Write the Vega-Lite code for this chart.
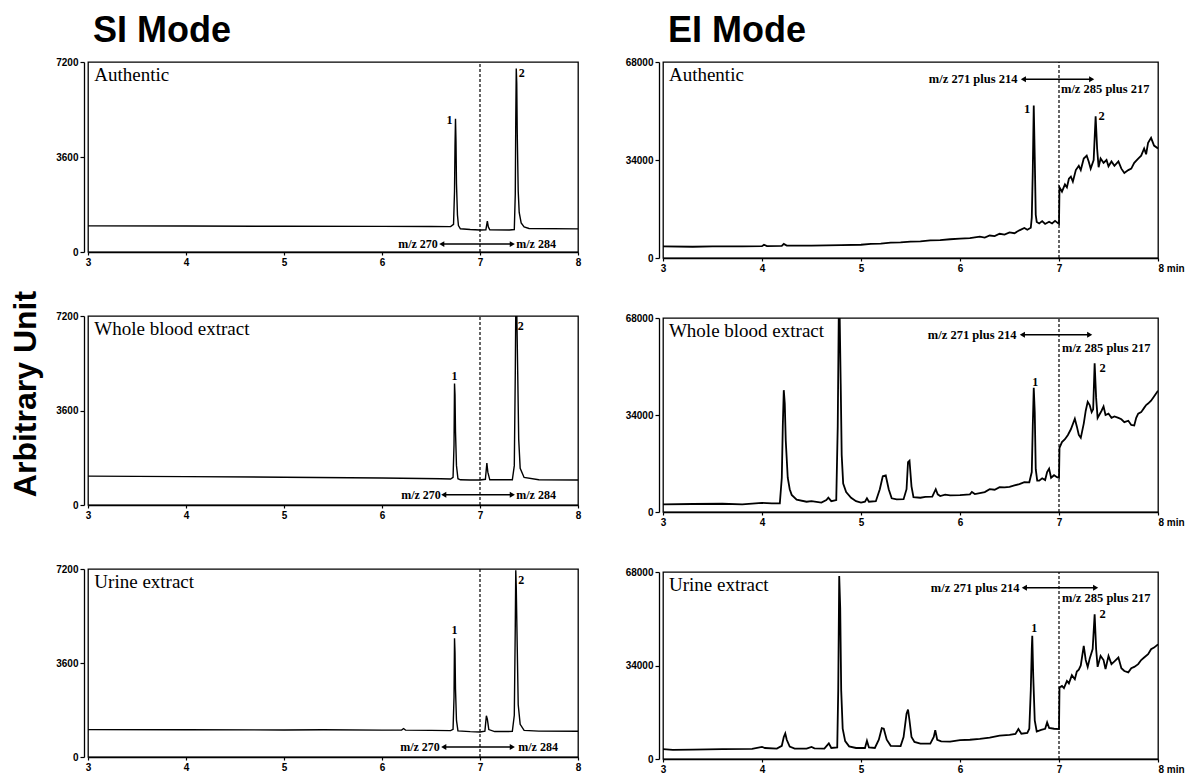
{
  "$schema": "https://vega.github.io/schema/vega-lite/v6.json",
  "background": "white",
  "padding": {"left": 10, "top": 13, "right": 5, "bottom": 1},
  "title": {"text": "Arbitrary Unit", "orient": "left", "anchor": "middle", "frame": "bounds", "font": "Liberation Sans", "fontSize": 32, "fontWeight": "bold", "color": "black", "offset": 12},
  "config": {
    "view": {"stroke": "black", "strokeWidth": 1.3},
    "axis": {"grid": false, "domainColor": "black", "tickColor": "black", "labelColor": "black", "labelFont": "Liberation Sans", "labelFontWeight": "bold", "labelFontSize": 10, "tickSize": 4, "domainWidth": 1.3, "tickWidth": 1.2, "labelFlush": false, "title": null, "labelPadding": 2},
    "text": {"color": "black"},
    "concat": {"spacing": 42}
  },
  "datasets": {
    "trace": [
      {"panel":"SI_A","t":3,"v":990},{"panel":"SI_A","t":4,"v":985},{"panel":"SI_A","t":5,"v":975},{"panel":"SI_A","t":6,"v":970},{"panel":"SI_A","t":6.5,"v":965},{"panel":"SI_A","t":6.7,"v":962},{"panel":"SI_A","t":6.73,"v":1050},{"panel":"SI_A","t":6.74,"v":2300},{"panel":"SI_A","t":6.745,"v":4000},{"panel":"SI_A","t":6.75,"v":5050},{"panel":"SI_A","t":6.755,"v":4200},{"panel":"SI_A","t":6.76,"v":2600},{"panel":"SI_A","t":6.77,"v":1400},{"panel":"SI_A","t":6.78,"v":1000},{"panel":"SI_A","t":6.8,"v":880},{"panel":"SI_A","t":6.9,"v":850},{"panel":"SI_A","t":7.0,"v":835},{"panel":"SI_A","t":7.06,"v":845},{"panel":"SI_A","t":7.075,"v":1170},{"panel":"SI_A","t":7.085,"v":950},{"panel":"SI_A","t":7.1,"v":840},{"panel":"SI_A","t":7.3,"v":835},{"panel":"SI_A","t":7.35,"v":850},{"panel":"SI_A","t":7.36,"v":2200},{"panel":"SI_A","t":7.365,"v":5000},{"panel":"SI_A","t":7.37,"v":6950},{"panel":"SI_A","t":7.375,"v":6400},{"panel":"SI_A","t":7.38,"v":4500},{"panel":"SI_A","t":7.39,"v":2300},{"panel":"SI_A","t":7.4,"v":1500},{"panel":"SI_A","t":7.42,"v":1100},{"panel":"SI_A","t":7.45,"v":950},{"panel":"SI_A","t":7.5,"v":890},{"panel":"SI_A","t":8,"v":875},

      {"panel":"SI_B","t":3,"v":1100},{"panel":"SI_B","t":4,"v":1080},{"panel":"SI_B","t":5,"v":1060},{"panel":"SI_B","t":6,"v":1030},{"panel":"SI_B","t":6.6,"v":1000},{"panel":"SI_B","t":6.7,"v":990},{"panel":"SI_B","t":6.725,"v":1050},{"panel":"SI_B","t":6.735,"v":2300},{"panel":"SI_B","t":6.74,"v":4630},{"panel":"SI_B","t":6.745,"v":4200},{"panel":"SI_B","t":6.75,"v":2800},{"panel":"SI_B","t":6.76,"v":1500},{"panel":"SI_B","t":6.775,"v":1000},{"panel":"SI_B","t":6.8,"v":960},{"panel":"SI_B","t":6.9,"v":950},{"panel":"SI_B","t":7.0,"v":950},{"panel":"SI_B","t":7.055,"v":980},{"panel":"SI_B","t":7.07,"v":1600},{"panel":"SI_B","t":7.08,"v":1250},{"panel":"SI_B","t":7.1,"v":960},{"panel":"SI_B","t":7.33,"v":960},{"panel":"SI_B","t":7.35,"v":1500},{"panel":"SI_B","t":7.36,"v":5000},{"panel":"SI_B","t":7.365,"v":7400},{"panel":"SI_B","t":7.375,"v":7400},{"panel":"SI_B","t":7.385,"v":5000},{"panel":"SI_B","t":7.395,"v":2500},{"panel":"SI_B","t":7.41,"v":1400},{"panel":"SI_B","t":7.45,"v":1050},{"panel":"SI_B","t":7.6,"v":960},{"panel":"SI_B","t":8,"v":950},

      {"panel":"SI_U","t":3,"v":1050},{"panel":"SI_U","t":4,"v":1045},{"panel":"SI_U","t":5,"v":1035},{"panel":"SI_U","t":5.4,"v":1042},{"panel":"SI_U","t":6,"v":1030},{"panel":"SI_U","t":6.2,"v":1030},{"panel":"SI_U","t":6.22,"v":1090},{"panel":"SI_U","t":6.24,"v":1030},{"panel":"SI_U","t":6.5,"v":1020},{"panel":"SI_U","t":6.7,"v":1010},{"panel":"SI_U","t":6.725,"v":1060},{"panel":"SI_U","t":6.735,"v":2300},{"panel":"SI_U","t":6.74,"v":4550},{"panel":"SI_U","t":6.745,"v":4000},{"panel":"SI_U","t":6.75,"v":2600},{"panel":"SI_U","t":6.76,"v":1400},{"panel":"SI_U","t":6.775,"v":1000},{"panel":"SI_U","t":6.9,"v":970},{"panel":"SI_U","t":7.0,"v":960},{"panel":"SI_U","t":7.05,"v":990},{"panel":"SI_U","t":7.065,"v":1580},{"panel":"SI_U","t":7.075,"v":1450},{"panel":"SI_U","t":7.09,"v":1050},{"panel":"SI_U","t":7.15,"v":975},{"panel":"SI_U","t":7.33,"v":980},{"panel":"SI_U","t":7.35,"v":1600},{"panel":"SI_U","t":7.36,"v":5000},{"panel":"SI_U","t":7.365,"v":7150},{"panel":"SI_U","t":7.37,"v":6500},{"panel":"SI_U","t":7.38,"v":4200},{"panel":"SI_U","t":7.39,"v":2000},{"panel":"SI_U","t":7.41,"v":1250},{"panel":"SI_U","t":7.45,"v":1020},{"panel":"SI_U","t":7.6,"v":990},{"panel":"SI_U","t":8,"v":985},

      {"panel":"EI_A","t":3.0,"v":4000},{"panel":"EI_A","t":3.3,"v":3900},{"panel":"EI_A","t":3.5,"v":4000},{"panel":"EI_A","t":3.8,"v":4050},{"panel":"EI_A","t":4.0,"v":4100},{"panel":"EI_A","t":4.02,"v":4600},{"panel":"EI_A","t":4.05,"v":4100},{"panel":"EI_A","t":4.2,"v":4200},{"panel":"EI_A","t":4.22,"v":4900},{"panel":"EI_A","t":4.25,"v":4300},{"panel":"EI_A","t":4.5,"v":4300},{"panel":"EI_A","t":4.8,"v":4500},{"panel":"EI_A","t":5.0,"v":4600},{"panel":"EI_A","t":5.1,"v":4900},{"panel":"EI_A","t":5.2,"v":5000},{"panel":"EI_A","t":5.3,"v":5300},{"panel":"EI_A","t":5.4,"v":5400},{"panel":"EI_A","t":5.5,"v":5700},{"panel":"EI_A","t":5.6,"v":5800},{"panel":"EI_A","t":5.7,"v":6100},{"panel":"EI_A","t":5.8,"v":6200},{"panel":"EI_A","t":5.9,"v":6500},{"panel":"EI_A","t":6.0,"v":6700},{"panel":"EI_A","t":6.1,"v":6900},{"panel":"EI_A","t":6.2,"v":7400},{"panel":"EI_A","t":6.25,"v":7100},{"panel":"EI_A","t":6.3,"v":7800},{"panel":"EI_A","t":6.35,"v":7600},{"panel":"EI_A","t":6.4,"v":8400},{"panel":"EI_A","t":6.45,"v":8100},{"panel":"EI_A","t":6.5,"v":8900},{"panel":"EI_A","t":6.55,"v":8600},{"panel":"EI_A","t":6.6,"v":9600},{"panel":"EI_A","t":6.65,"v":10400},{"panel":"EI_A","t":6.68,"v":9800},{"panel":"EI_A","t":6.715,"v":10500},{"panel":"EI_A","t":6.725,"v":14000},{"panel":"EI_A","t":6.735,"v":30000},{"panel":"EI_A","t":6.745,"v":52900},{"panel":"EI_A","t":6.755,"v":35000},{"panel":"EI_A","t":6.765,"v":15000},{"panel":"EI_A","t":6.775,"v":12500},{"panel":"EI_A","t":6.8,"v":12000},{"panel":"EI_A","t":6.83,"v":12800},{"panel":"EI_A","t":6.86,"v":11800},{"panel":"EI_A","t":6.9,"v":12600},{"panel":"EI_A","t":6.93,"v":12000},{"panel":"EI_A","t":6.96,"v":12900},{"panel":"EI_A","t":7.0,"v":11800},{"panel":"EI_A","t":7.005,"v":24500},{"panel":"EI_A","t":7.03,"v":23000},{"panel":"EI_A","t":7.06,"v":25500},{"panel":"EI_A","t":7.08,"v":24500},{"panel":"EI_A","t":7.1,"v":27500},{"panel":"EI_A","t":7.12,"v":28200},{"panel":"EI_A","t":7.14,"v":26500},{"panel":"EI_A","t":7.17,"v":30500},{"panel":"EI_A","t":7.2,"v":32000},{"panel":"EI_A","t":7.22,"v":30500},{"panel":"EI_A","t":7.25,"v":34500},{"panel":"EI_A","t":7.28,"v":35500},{"panel":"EI_A","t":7.3,"v":33500},{"panel":"EI_A","t":7.32,"v":31000},{"panel":"EI_A","t":7.35,"v":34000},{"panel":"EI_A","t":7.37,"v":49200},{"panel":"EI_A","t":7.385,"v":38000},{"panel":"EI_A","t":7.4,"v":31500},{"panel":"EI_A","t":7.42,"v":34500},{"panel":"EI_A","t":7.45,"v":33000},{"panel":"EI_A","t":7.48,"v":34000},{"panel":"EI_A","t":7.5,"v":31800},{"panel":"EI_A","t":7.53,"v":33500},{"panel":"EI_A","t":7.56,"v":32000},{"panel":"EI_A","t":7.6,"v":33500},{"panel":"EI_A","t":7.63,"v":31000},{"panel":"EI_A","t":7.66,"v":29500},{"panel":"EI_A","t":7.7,"v":30500},{"panel":"EI_A","t":7.73,"v":31000},{"panel":"EI_A","t":7.76,"v":33000},{"panel":"EI_A","t":7.8,"v":34500},{"panel":"EI_A","t":7.83,"v":35500},{"panel":"EI_A","t":7.86,"v":38000},{"panel":"EI_A","t":7.88,"v":36000},{"panel":"EI_A","t":7.9,"v":40000},{"panel":"EI_A","t":7.93,"v":41700},{"panel":"EI_A","t":7.96,"v":39000},{"panel":"EI_A","t":8.0,"v":38000},

      {"panel":"EI_B","t":3.0,"v":2700},{"panel":"EI_B","t":3.3,"v":2800},{"panel":"EI_B","t":3.6,"v":2900},{"panel":"EI_B","t":3.8,"v":2700},{"panel":"EI_B","t":4.0,"v":3200},{"panel":"EI_B","t":4.1,"v":3000},{"panel":"EI_B","t":4.18,"v":3000},{"panel":"EI_B","t":4.2,"v":12000},{"panel":"EI_B","t":4.21,"v":30000},{"panel":"EI_B","t":4.22,"v":42700},{"panel":"EI_B","t":4.23,"v":38000},{"panel":"EI_B","t":4.24,"v":25000},{"panel":"EI_B","t":4.26,"v":12000},{"panel":"EI_B","t":4.28,"v":8000},{"panel":"EI_B","t":4.3,"v":6000},{"panel":"EI_B","t":4.35,"v":4300},{"panel":"EI_B","t":4.45,"v":3600},{"panel":"EI_B","t":4.5,"v":3800},{"panel":"EI_B","t":4.6,"v":3300},{"panel":"EI_B","t":4.65,"v":4200},{"panel":"EI_B","t":4.67,"v":5000},{"panel":"EI_B","t":4.7,"v":3800},{"panel":"EI_B","t":4.75,"v":4200},{"panel":"EI_B","t":4.765,"v":30000},{"panel":"EI_B","t":4.775,"v":67800},{"panel":"EI_B","t":4.785,"v":67800},{"panel":"EI_B","t":4.795,"v":45000},{"panel":"EI_B","t":4.805,"v":20000},{"panel":"EI_B","t":4.82,"v":10000},{"panel":"EI_B","t":4.85,"v":7000},{"panel":"EI_B","t":4.9,"v":5000},{"panel":"EI_B","t":4.95,"v":3800},{"panel":"EI_B","t":5.0,"v":3300},{"panel":"EI_B","t":5.04,"v":3600},{"panel":"EI_B","t":5.06,"v":4800},{"panel":"EI_B","t":5.08,"v":3600},{"panel":"EI_B","t":5.15,"v":3800},{"panel":"EI_B","t":5.19,"v":8000},{"panel":"EI_B","t":5.22,"v":12500},{"panel":"EI_B","t":5.25,"v":12800},{"panel":"EI_B","t":5.28,"v":8000},{"panel":"EI_B","t":5.31,"v":4800},{"panel":"EI_B","t":5.36,"v":4400},{"panel":"EI_B","t":5.43,"v":4500},{"panel":"EI_B","t":5.46,"v":8000},{"panel":"EI_B","t":5.475,"v":17500},{"panel":"EI_B","t":5.49,"v":18000},{"panel":"EI_B","t":5.51,"v":9000},{"panel":"EI_B","t":5.53,"v":5200},{"panel":"EI_B","t":5.6,"v":5000},{"panel":"EI_B","t":5.65,"v":5300},{"panel":"EI_B","t":5.72,"v":5400},{"panel":"EI_B","t":5.755,"v":8000},{"panel":"EI_B","t":5.775,"v":6200},{"panel":"EI_B","t":5.8,"v":5600},{"panel":"EI_B","t":5.85,"v":6100},{"panel":"EI_B","t":5.9,"v":5800},{"panel":"EI_B","t":6.0,"v":5900},{"panel":"EI_B","t":6.1,"v":6200},{"panel":"EI_B","t":6.12,"v":7000},{"panel":"EI_B","t":6.15,"v":6300},{"panel":"EI_B","t":6.25,"v":7000},{"panel":"EI_B","t":6.3,"v":8000},{"panel":"EI_B","t":6.35,"v":7800},{"panel":"EI_B","t":6.4,"v":8700},{"panel":"EI_B","t":6.45,"v":8600},{"panel":"EI_B","t":6.5,"v":8800},{"panel":"EI_B","t":6.55,"v":9300},{"panel":"EI_B","t":6.6,"v":9800},{"panel":"EI_B","t":6.65,"v":10500},{"panel":"EI_B","t":6.7,"v":10400},{"panel":"EI_B","t":6.725,"v":14000},{"panel":"EI_B","t":6.735,"v":30000},{"panel":"EI_B","t":6.745,"v":43500},{"panel":"EI_B","t":6.755,"v":35000},{"panel":"EI_B","t":6.765,"v":15000},{"panel":"EI_B","t":6.78,"v":11000},{"panel":"EI_B","t":6.8,"v":11000},{"panel":"EI_B","t":6.83,"v":11800},{"panel":"EI_B","t":6.86,"v":11200},{"panel":"EI_B","t":6.88,"v":14000},{"panel":"EI_B","t":6.9,"v":15200},{"panel":"EI_B","t":6.92,"v":12000},{"panel":"EI_B","t":6.95,"v":12900},{"panel":"EI_B","t":6.98,"v":12200},{"panel":"EI_B","t":7.0,"v":12000},{"panel":"EI_B","t":7.005,"v":22500},{"panel":"EI_B","t":7.03,"v":24500},{"panel":"EI_B","t":7.06,"v":25500},{"panel":"EI_B","t":7.09,"v":27000},{"panel":"EI_B","t":7.12,"v":29000},{"panel":"EI_B","t":7.16,"v":32700},{"panel":"EI_B","t":7.18,"v":30000},{"panel":"EI_B","t":7.2,"v":27000},{"panel":"EI_B","t":7.22,"v":26000},{"panel":"EI_B","t":7.25,"v":31000},{"panel":"EI_B","t":7.27,"v":35500},{"panel":"EI_B","t":7.29,"v":38600},{"panel":"EI_B","t":7.31,"v":37500},{"panel":"EI_B","t":7.33,"v":35000},{"panel":"EI_B","t":7.345,"v":36000},{"panel":"EI_B","t":7.36,"v":52100},{"panel":"EI_B","t":7.375,"v":40000},{"panel":"EI_B","t":7.39,"v":33000},{"panel":"EI_B","t":7.43,"v":35500},{"panel":"EI_B","t":7.45,"v":37000},{"panel":"EI_B","t":7.47,"v":34000},{"panel":"EI_B","t":7.5,"v":34500},{"panel":"EI_B","t":7.53,"v":33000},{"panel":"EI_B","t":7.56,"v":33500},{"panel":"EI_B","t":7.6,"v":33000},{"panel":"EI_B","t":7.63,"v":32500},{"panel":"EI_B","t":7.66,"v":31500},{"panel":"EI_B","t":7.7,"v":32000},{"panel":"EI_B","t":7.73,"v":30500},{"panel":"EI_B","t":7.76,"v":30300},{"panel":"EI_B","t":7.78,"v":33000},{"panel":"EI_B","t":7.8,"v":34500},{"panel":"EI_B","t":7.83,"v":35000},{"panel":"EI_B","t":7.86,"v":36500},{"panel":"EI_B","t":7.88,"v":37500},{"panel":"EI_B","t":7.9,"v":38000},{"panel":"EI_B","t":7.93,"v":39000},{"panel":"EI_B","t":7.96,"v":40500},{"panel":"EI_B","t":8.0,"v":42500},

      {"panel":"EI_U","t":3.0,"v":3600},{"panel":"EI_U","t":3.1,"v":3300},{"panel":"EI_U","t":3.3,"v":3400},{"panel":"EI_U","t":3.6,"v":3600},{"panel":"EI_U","t":3.9,"v":3700},{"panel":"EI_U","t":4.0,"v":4400},{"panel":"EI_U","t":4.03,"v":4000},{"panel":"EI_U","t":4.15,"v":3800},{"panel":"EI_U","t":4.2,"v":4800},{"panel":"EI_U","t":4.22,"v":8000},{"panel":"EI_U","t":4.235,"v":9300},{"panel":"EI_U","t":4.25,"v":7000},{"panel":"EI_U","t":4.28,"v":4500},{"panel":"EI_U","t":4.33,"v":3800},{"panel":"EI_U","t":4.45,"v":3800},{"panel":"EI_U","t":4.5,"v":4400},{"panel":"EI_U","t":4.53,"v":3900},{"panel":"EI_U","t":4.63,"v":3800},{"panel":"EI_U","t":4.675,"v":5700},{"panel":"EI_U","t":4.7,"v":4000},{"panel":"EI_U","t":4.76,"v":4200},{"panel":"EI_U","t":4.77,"v":25000},{"panel":"EI_U","t":4.78,"v":66500},{"panel":"EI_U","t":4.79,"v":55000},{"panel":"EI_U","t":4.8,"v":25000},{"panel":"EI_U","t":4.815,"v":11000},{"panel":"EI_U","t":4.84,"v":6500},{"panel":"EI_U","t":4.88,"v":4600},{"panel":"EI_U","t":4.95,"v":4000},{"panel":"EI_U","t":5.04,"v":4000},{"panel":"EI_U","t":5.06,"v":6600},{"panel":"EI_U","t":5.08,"v":4200},{"panel":"EI_U","t":5.14,"v":4000},{"panel":"EI_U","t":5.18,"v":7000},{"panel":"EI_U","t":5.21,"v":11200},{"panel":"EI_U","t":5.23,"v":11000},{"panel":"EI_U","t":5.26,"v":7000},{"panel":"EI_U","t":5.3,"v":4800},{"panel":"EI_U","t":5.4,"v":4700},{"panel":"EI_U","t":5.43,"v":8000},{"panel":"EI_U","t":5.46,"v":16500},{"panel":"EI_U","t":5.475,"v":18000},{"panel":"EI_U","t":5.49,"v":14000},{"panel":"EI_U","t":5.51,"v":8000},{"panel":"EI_U","t":5.54,"v":6200},{"panel":"EI_U","t":5.6,"v":5600},{"panel":"EI_U","t":5.7,"v":5600},{"panel":"EI_U","t":5.735,"v":8000},{"panel":"EI_U","t":5.75,"v":10500},{"panel":"EI_U","t":5.77,"v":7000},{"panel":"EI_U","t":5.81,"v":6400},{"panel":"EI_U","t":5.9,"v":6300},{"panel":"EI_U","t":6.0,"v":6900},{"panel":"EI_U","t":6.1,"v":7000},{"panel":"EI_U","t":6.2,"v":7300},{"panel":"EI_U","t":6.3,"v":7800},{"panel":"EI_U","t":6.4,"v":8500},{"panel":"EI_U","t":6.5,"v":8800},{"panel":"EI_U","t":6.56,"v":9100},{"panel":"EI_U","t":6.59,"v":10900},{"panel":"EI_U","t":6.62,"v":9200},{"panel":"EI_U","t":6.68,"v":9500},{"panel":"EI_U","t":6.7,"v":11000},{"panel":"EI_U","t":6.715,"v":25000},{"panel":"EI_U","t":6.725,"v":40000},{"panel":"EI_U","t":6.73,"v":44800},{"panel":"EI_U","t":6.74,"v":30000},{"panel":"EI_U","t":6.755,"v":14000},{"panel":"EI_U","t":6.775,"v":10000},{"panel":"EI_U","t":6.82,"v":10600},{"panel":"EI_U","t":6.86,"v":11000},{"panel":"EI_U","t":6.88,"v":13300},{"panel":"EI_U","t":6.9,"v":11300},{"panel":"EI_U","t":6.95,"v":11000},{"panel":"EI_U","t":7.0,"v":10900},{"panel":"EI_U","t":7.005,"v":26000},{"panel":"EI_U","t":7.03,"v":26600},{"panel":"EI_U","t":7.05,"v":25800},{"panel":"EI_U","t":7.08,"v":28400},{"panel":"EI_U","t":7.1,"v":27500},{"panel":"EI_U","t":7.13,"v":30500},{"panel":"EI_U","t":7.16,"v":29000},{"panel":"EI_U","t":7.18,"v":31800},{"panel":"EI_U","t":7.2,"v":32500},{"panel":"EI_U","t":7.22,"v":34000},{"panel":"EI_U","t":7.25,"v":41100},{"panel":"EI_U","t":7.27,"v":36000},{"panel":"EI_U","t":7.29,"v":33500},{"panel":"EI_U","t":7.31,"v":36500},{"panel":"EI_U","t":7.34,"v":40000},{"panel":"EI_U","t":7.36,"v":52600},{"panel":"EI_U","t":7.375,"v":40000},{"panel":"EI_U","t":7.39,"v":33500},{"panel":"EI_U","t":7.42,"v":37500},{"panel":"EI_U","t":7.45,"v":36000},{"panel":"EI_U","t":7.47,"v":32700},{"panel":"EI_U","t":7.5,"v":37500},{"panel":"EI_U","t":7.53,"v":34500},{"panel":"EI_U","t":7.56,"v":35500},{"panel":"EI_U","t":7.6,"v":36900},{"panel":"EI_U","t":7.63,"v":33000},{"panel":"EI_U","t":7.66,"v":32000},{"panel":"EI_U","t":7.7,"v":31500},{"panel":"EI_U","t":7.73,"v":33000},{"panel":"EI_U","t":7.76,"v":33500},{"panel":"EI_U","t":7.8,"v":34500},{"panel":"EI_U","t":7.83,"v":36000},{"panel":"EI_U","t":7.86,"v":36900},{"panel":"EI_U","t":7.9,"v":38100},{"panel":"EI_U","t":7.93,"v":39900},{"panel":"EI_U","t":7.96,"v":40500},{"panel":"EI_U","t":8.0,"v":41700}
    ],
    "divider": [
      {"panel":"SI_A","t":7,"v":0,"v2":7200},{"panel":"SI_B","t":7,"v":0,"v2":7200},{"panel":"SI_U","t":7,"v":0,"v2":7200},
      {"panel":"EI_A","t":7,"v":0,"v2":68000},{"panel":"EI_B","t":7,"v":0,"v2":68000},{"panel":"EI_U","t":7,"v":0,"v2":68000}
    ],
    "arrow": [
      {"panel":"SI_A","t":6.61,"t2":7.33,"v":300},{"panel":"SI_B","t":6.63,"t2":7.33,"v":390},{"panel":"SI_U","t":6.63,"t2":7.33,"v":380},
      {"panel":"EI_A","t":6.64,"t2":7.33,"v":62000},{"panel":"EI_B","t":6.63,"t2":7.31,"v":62100},{"panel":"EI_U","t":6.65,"t2":7.37,"v":62300}
    ],
    "head": [
      {"panel":"SI_A","t":6.61,"v":300,"dir":"L"},{"panel":"SI_A","t":7.33,"v":300,"dir":"R"},
      {"panel":"SI_B","t":6.63,"v":390,"dir":"L"},{"panel":"SI_B","t":7.33,"v":390,"dir":"R"},
      {"panel":"SI_U","t":6.63,"v":380,"dir":"L"},{"panel":"SI_U","t":7.33,"v":380,"dir":"R"},
      {"panel":"EI_A","t":6.64,"v":62000,"dir":"L"},{"panel":"EI_A","t":7.33,"v":62000,"dir":"R"},
      {"panel":"EI_B","t":6.63,"v":62100,"dir":"L"},{"panel":"EI_B","t":7.31,"v":62100,"dir":"R"},
      {"panel":"EI_U","t":6.65,"v":62300,"dir":"L"},{"panel":"EI_U","t":7.37,"v":62300,"dir":"R"}
    ],
    "ann": [
      {"panel":"SI_A","kind":"name","t":3.065,"v":7050,"txt":"Authentic","al":"l"},
      {"panel":"SI_A","kind":"note","t":6.72,"v":5000,"txt":"1","al":"r"},
      {"panel":"SI_A","kind":"note","t":7.395,"v":6790,"txt":"2","al":"l"},
      {"panel":"SI_A","kind":"note","t":6.57,"v":300,"txt":"m/z 270","al":"r"},
      {"panel":"SI_A","kind":"note","t":7.37,"v":300,"txt":"m/z 284","al":"l"},
      {"panel":"SI_B","kind":"name","t":3.065,"v":7050,"txt":"Whole blood extract","al":"l"},
      {"panel":"SI_B","kind":"note","t":6.74,"v":4930,"txt":"1","al":"c"},
      {"panel":"SI_B","kind":"note","t":7.385,"v":6810,"txt":"2","al":"l"},
      {"panel":"SI_B","kind":"note","t":6.6,"v":390,"txt":"m/z 270","al":"r"},
      {"panel":"SI_B","kind":"note","t":7.37,"v":390,"txt":"m/z 284","al":"l"},
      {"panel":"SI_U","kind":"name","t":3.065,"v":7050,"txt":"Urine extract","al":"l"},
      {"panel":"SI_U","kind":"note","t":6.74,"v":4860,"txt":"1","al":"c"},
      {"panel":"SI_U","kind":"note","t":7.39,"v":6760,"txt":"2","al":"l"},
      {"panel":"SI_U","kind":"note","t":6.59,"v":380,"txt":"m/z 270","al":"r"},
      {"panel":"SI_U","kind":"note","t":7.39,"v":380,"txt":"m/z 284","al":"l"},
      {"panel":"EI_A","kind":"name","t":3.06,"v":66600,"txt":"Authentic","al":"l"},
      {"panel":"EI_A","kind":"note","t":6.71,"v":51550,"txt":"1","al":"r"},
      {"panel":"EI_A","kind":"note","t":7.4,"v":49200,"txt":"2","al":"l"},
      {"panel":"EI_A","kind":"note","t":6.58,"v":62000,"txt":"m/z 271 plus 214","al":"r"},
      {"panel":"EI_A","kind":"note","t":7.02,"v":58500,"txt":"m/z 285 plus 217","al":"l"},
      {"panel":"EI_B","kind":"name","t":3.06,"v":66600,"txt":"Whole blood extract","al":"l"},
      {"panel":"EI_B","kind":"note","t":6.76,"v":45650,"txt":"1","al":"c"},
      {"panel":"EI_B","kind":"note","t":7.41,"v":50350,"txt":"2","al":"l"},
      {"panel":"EI_B","kind":"note","t":6.57,"v":62100,"txt":"m/z 271 plus 214","al":"r"},
      {"panel":"EI_B","kind":"note","t":7.03,"v":57400,"txt":"m/z 285 plus 217","al":"l"},
      {"panel":"EI_U","kind":"name","t":3.06,"v":66600,"txt":"Urine extract","al":"l"},
      {"panel":"EI_U","kind":"note","t":6.75,"v":47800,"txt":"1","al":"c"},
      {"panel":"EI_U","kind":"note","t":7.41,"v":52600,"txt":"2","al":"l"},
      {"panel":"EI_U","kind":"note","t":6.6,"v":62300,"txt":"m/z 271 plus 214","al":"r"},
      {"panel":"EI_U","kind":"note","t":7.03,"v":58700,"txt":"m/z 285 plus 217","al":"l"}
    ]
  },
  "hconcat": [
    {
      "title": {"text": "SI Mode", "anchor": "start", "frame": "group", "font": "Liberation Sans", "fontSize": 36, "fontWeight": "bold", "color": "black", "offset": 6, "dx": 5},
      "spacing": 42,
      "vconcat": [
        {
          "width": 490, "height": 190,
          "encoding": {
            "x": {"field": "t", "type": "quantitative", "scale": {"domain": [3, 8], "nice": false, "zero": false}, "axis": {"values": [3,4,5,6,7,8], "format": "d", "tickSize": 3}},
            "y": {"field": "v", "type": "quantitative", "scale": {"domain": [0, 7200], "nice": false}, "axis": {"values": [0,3600,7200], "format": "d", "offset": 4}}
          },
          "layer": [
            {"data": {"name": "trace"}, "transform": [{"filter": "datum.panel == 'SI_A'"}], "mark": {"type": "line", "color": "black", "strokeWidth": 1.4, "clip": true}},
            {"data": {"name": "divider"}, "transform": [{"filter": "datum.panel == 'SI_A'"}], "mark": {"type": "rule", "color": "black", "strokeWidth": 1.2, "strokeDash": [3, 2]}, "encoding": {"y2": {"field": "v2"}}},
            {"data": {"name": "arrow"}, "transform": [{"filter": "datum.panel == 'SI_A'"}], "mark": {"type": "rule", "color": "black", "strokeWidth": 1.5}, "encoding": {"x2": {"field": "t2"}}},
            {"data": {"name": "head"}, "transform": [{"filter": "datum.panel == 'SI_A'"}], "mark": {"type": "point", "filled": true, "color": "black", "opacity": 1, "size": 35}, "encoding": {"shape": {"field": "dir", "type": "nominal", "scale": {"domain": ["L", "R"], "range": ["triangle-left", "triangle-right"]}, "legend": null}}},
            {"data": {"name": "ann"}, "transform": [{"filter": "datum.panel == 'SI_A' && datum.kind == 'name'"}], "mark": {"type": "text", "align": "left", "baseline": "top", "font": "Liberation Serif", "fontSize": 19}, "encoding": {"text": {"field": "txt"}}},
            {"data": {"name": "ann"}, "transform": [{"filter": "datum.panel == 'SI_A' && datum.kind == 'note' && datum.al == 'l'"}], "mark": {"type": "text", "align": "left", "baseline": "middle", "font": "Liberation Serif", "fontWeight": "bold", "fontSize": 12}, "encoding": {"text": {"field": "txt"}}},
            {"data": {"name": "ann"}, "transform": [{"filter": "datum.panel == 'SI_A' && datum.kind == 'note' && datum.al == 'r'"}], "mark": {"type": "text", "align": "right", "baseline": "middle", "font": "Liberation Serif", "fontWeight": "bold", "fontSize": 12}, "encoding": {"text": {"field": "txt"}}}
          ]
        },
        {
          "width": 490, "height": 189,
          "encoding": {
            "x": {"field": "t", "type": "quantitative", "scale": {"domain": [3, 8], "nice": false, "zero": false}, "axis": {"values": [3,4,5,6,7,8], "format": "d", "tickSize": 3}},
            "y": {"field": "v", "type": "quantitative", "scale": {"domain": [0, 7200], "nice": false}, "axis": {"values": [0,3600,7200], "format": "d", "offset": 4}}
          },
          "layer": [
            {"data": {"name": "trace"}, "transform": [{"filter": "datum.panel == 'SI_B'"}], "mark": {"type": "line", "color": "black", "strokeWidth": 1.4, "clip": true}},
            {"data": {"name": "divider"}, "transform": [{"filter": "datum.panel == 'SI_B'"}], "mark": {"type": "rule", "color": "black", "strokeWidth": 1.2, "strokeDash": [3, 2]}, "encoding": {"y2": {"field": "v2"}}},
            {"data": {"name": "arrow"}, "transform": [{"filter": "datum.panel == 'SI_B'"}], "mark": {"type": "rule", "color": "black", "strokeWidth": 1.5}, "encoding": {"x2": {"field": "t2"}}},
            {"data": {"name": "head"}, "transform": [{"filter": "datum.panel == 'SI_B'"}], "mark": {"type": "point", "filled": true, "color": "black", "opacity": 1, "size": 35}, "encoding": {"shape": {"field": "dir", "type": "nominal", "scale": {"domain": ["L", "R"], "range": ["triangle-left", "triangle-right"]}, "legend": null}}},
            {"data": {"name": "ann"}, "transform": [{"filter": "datum.panel == 'SI_B' && datum.kind == 'name'"}], "mark": {"type": "text", "align": "left", "baseline": "top", "font": "Liberation Serif", "fontSize": 19}, "encoding": {"text": {"field": "txt"}}},
            {"data": {"name": "ann"}, "transform": [{"filter": "datum.panel == 'SI_B' && datum.kind == 'note' && datum.al == 'l'"}], "mark": {"type": "text", "align": "left", "baseline": "middle", "font": "Liberation Serif", "fontWeight": "bold", "fontSize": 12}, "encoding": {"text": {"field": "txt"}}},
            {"data": {"name": "ann"}, "transform": [{"filter": "datum.panel == 'SI_B' && datum.kind == 'note' && datum.al == 'r'"}], "mark": {"type": "text", "align": "right", "baseline": "middle", "font": "Liberation Serif", "fontWeight": "bold", "fontSize": 12}, "encoding": {"text": {"field": "txt"}}},
            {"data": {"name": "ann"}, "transform": [{"filter": "datum.panel == 'SI_B' && datum.kind == 'note' && datum.al == 'c'"}], "mark": {"type": "text", "align": "center", "baseline": "middle", "font": "Liberation Serif", "fontWeight": "bold", "fontSize": 12}, "encoding": {"text": {"field": "txt"}}}
          ]
        },
        {
          "width": 490, "height": 188,
          "encoding": {
            "x": {"field": "t", "type": "quantitative", "scale": {"domain": [3, 8], "nice": false, "zero": false}, "axis": {"values": [3,4,5,6,7,8], "format": "d", "tickSize": 3}},
            "y": {"field": "v", "type": "quantitative", "scale": {"domain": [0, 7200], "nice": false}, "axis": {"values": [0,3600,7200], "format": "d", "offset": 4}}
          },
          "layer": [
            {"data": {"name": "trace"}, "transform": [{"filter": "datum.panel == 'SI_U'"}], "mark": {"type": "line", "color": "black", "strokeWidth": 1.4, "clip": true}},
            {"data": {"name": "divider"}, "transform": [{"filter": "datum.panel == 'SI_U'"}], "mark": {"type": "rule", "color": "black", "strokeWidth": 1.2, "strokeDash": [3, 2]}, "encoding": {"y2": {"field": "v2"}}},
            {"data": {"name": "arrow"}, "transform": [{"filter": "datum.panel == 'SI_U'"}], "mark": {"type": "rule", "color": "black", "strokeWidth": 1.5}, "encoding": {"x2": {"field": "t2"}}},
            {"data": {"name": "head"}, "transform": [{"filter": "datum.panel == 'SI_U'"}], "mark": {"type": "point", "filled": true, "color": "black", "opacity": 1, "size": 35}, "encoding": {"shape": {"field": "dir", "type": "nominal", "scale": {"domain": ["L", "R"], "range": ["triangle-left", "triangle-right"]}, "legend": null}}},
            {"data": {"name": "ann"}, "transform": [{"filter": "datum.panel == 'SI_U' && datum.kind == 'name'"}], "mark": {"type": "text", "align": "left", "baseline": "top", "font": "Liberation Serif", "fontSize": 19}, "encoding": {"text": {"field": "txt"}}},
            {"data": {"name": "ann"}, "transform": [{"filter": "datum.panel == 'SI_U' && datum.kind == 'note' && datum.al == 'l'"}], "mark": {"type": "text", "align": "left", "baseline": "middle", "font": "Liberation Serif", "fontWeight": "bold", "fontSize": 12}, "encoding": {"text": {"field": "txt"}}},
            {"data": {"name": "ann"}, "transform": [{"filter": "datum.panel == 'SI_U' && datum.kind == 'note' && datum.al == 'r'"}], "mark": {"type": "text", "align": "right", "baseline": "middle", "font": "Liberation Serif", "fontWeight": "bold", "fontSize": 12}, "encoding": {"text": {"field": "txt"}}},
            {"data": {"name": "ann"}, "transform": [{"filter": "datum.panel == 'SI_U' && datum.kind == 'note' && datum.al == 'c'"}], "mark": {"type": "text", "align": "center", "baseline": "middle", "font": "Liberation Serif", "fontWeight": "bold", "fontSize": 12}, "encoding": {"text": {"field": "txt"}}}
          ]
        }
      ]
    },
    {
      "title": {"text": "EI Mode", "anchor": "start", "frame": "group", "font": "Liberation Sans", "fontSize": 36, "fontWeight": "bold", "color": "black", "offset": 6, "dx": 5},
      "spacing": 38,
      "vconcat": [
        {
          "width": 495, "height": 196,
          "encoding": {
            "x": {"field": "t", "type": "quantitative", "scale": {"domain": [3, 8], "nice": false, "zero": false}, "axis": {"values": [3,4,5,6,7,8], "format": "d", "tickSize": 3, "labelExpr": "datum.value == 8 ? '8 min' : datum.label", "labelAlign": {"condition": {"test": "datum.value == 8", "value": "left"}, "value": "center"}}},
            "y": {"field": "v", "type": "quantitative", "scale": {"domain": [0, 68000], "nice": false}, "axis": {"values": [0,34000,68000], "format": "d", "offset": 4}}
          },
          "layer": [
            {"data": {"name": "trace"}, "transform": [{"filter": "datum.panel == 'EI_A'"}], "mark": {"type": "line", "color": "black", "strokeWidth": 1.8, "clip": true}},
            {"data": {"name": "divider"}, "transform": [{"filter": "datum.panel == 'EI_A'"}], "mark": {"type": "rule", "color": "black", "strokeWidth": 1.2, "strokeDash": [3, 2]}, "encoding": {"y2": {"field": "v2"}}},
            {"data": {"name": "arrow"}, "transform": [{"filter": "datum.panel == 'EI_A'"}], "mark": {"type": "rule", "color": "black", "strokeWidth": 1.5}, "encoding": {"x2": {"field": "t2"}}},
            {"data": {"name": "head"}, "transform": [{"filter": "datum.panel == 'EI_A'"}], "mark": {"type": "point", "filled": true, "color": "black", "opacity": 1, "size": 35}, "encoding": {"shape": {"field": "dir", "type": "nominal", "scale": {"domain": ["L", "R"], "range": ["triangle-left", "triangle-right"]}, "legend": null}}},
            {"data": {"name": "ann"}, "transform": [{"filter": "datum.panel == 'EI_A' && datum.kind == 'name'"}], "mark": {"type": "text", "align": "left", "baseline": "top", "font": "Liberation Serif", "fontSize": 19}, "encoding": {"text": {"field": "txt"}}},
            {"data": {"name": "ann"}, "transform": [{"filter": "datum.panel == 'EI_A' && datum.kind == 'note' && datum.al == 'l'"}], "mark": {"type": "text", "align": "left", "baseline": "middle", "font": "Liberation Serif", "fontWeight": "bold", "fontSize": 12.5}, "encoding": {"text": {"field": "txt"}}},
            {"data": {"name": "ann"}, "transform": [{"filter": "datum.panel == 'EI_A' && datum.kind == 'note' && datum.al == 'r'"}], "mark": {"type": "text", "align": "right", "baseline": "middle", "font": "Liberation Serif", "fontWeight": "bold", "fontSize": 12.5}, "encoding": {"text": {"field": "txt"}}}
          ]
        },
        {
          "width": 495, "height": 194,
          "encoding": {
            "x": {"field": "t", "type": "quantitative", "scale": {"domain": [3, 8], "nice": false, "zero": false}, "axis": {"values": [3,4,5,6,7,8], "format": "d", "tickSize": 3, "labelExpr": "datum.value == 8 ? '8 min' : datum.label", "labelAlign": {"condition": {"test": "datum.value == 8", "value": "left"}, "value": "center"}}},
            "y": {"field": "v", "type": "quantitative", "scale": {"domain": [0, 68000], "nice": false}, "axis": {"values": [0,34000,68000], "format": "d", "offset": 4}}
          },
          "layer": [
            {"data": {"name": "trace"}, "transform": [{"filter": "datum.panel == 'EI_B'"}], "mark": {"type": "line", "color": "black", "strokeWidth": 1.8, "clip": true}},
            {"data": {"name": "divider"}, "transform": [{"filter": "datum.panel == 'EI_B'"}], "mark": {"type": "rule", "color": "black", "strokeWidth": 1.2, "strokeDash": [3, 2]}, "encoding": {"y2": {"field": "v2"}}},
            {"data": {"name": "arrow"}, "transform": [{"filter": "datum.panel == 'EI_B'"}], "mark": {"type": "rule", "color": "black", "strokeWidth": 1.5}, "encoding": {"x2": {"field": "t2"}}},
            {"data": {"name": "head"}, "transform": [{"filter": "datum.panel == 'EI_B'"}], "mark": {"type": "point", "filled": true, "color": "black", "opacity": 1, "size": 35}, "encoding": {"shape": {"field": "dir", "type": "nominal", "scale": {"domain": ["L", "R"], "range": ["triangle-left", "triangle-right"]}, "legend": null}}},
            {"data": {"name": "ann"}, "transform": [{"filter": "datum.panel == 'EI_B' && datum.kind == 'name'"}], "mark": {"type": "text", "align": "left", "baseline": "top", "font": "Liberation Serif", "fontSize": 19}, "encoding": {"text": {"field": "txt"}}},
            {"data": {"name": "ann"}, "transform": [{"filter": "datum.panel == 'EI_B' && datum.kind == 'note' && datum.al == 'l'"}], "mark": {"type": "text", "align": "left", "baseline": "middle", "font": "Liberation Serif", "fontWeight": "bold", "fontSize": 12.5}, "encoding": {"text": {"field": "txt"}}},
            {"data": {"name": "ann"}, "transform": [{"filter": "datum.panel == 'EI_B' && datum.kind == 'note' && datum.al == 'r'"}], "mark": {"type": "text", "align": "right", "baseline": "middle", "font": "Liberation Serif", "fontWeight": "bold", "fontSize": 12.5}, "encoding": {"text": {"field": "txt"}}},
            {"data": {"name": "ann"}, "transform": [{"filter": "datum.panel == 'EI_B' && datum.kind == 'note' && datum.al == 'c'"}], "mark": {"type": "text", "align": "center", "baseline": "middle", "font": "Liberation Serif", "fontWeight": "bold", "fontSize": 12}, "encoding": {"text": {"field": "txt"}}}
          ]
        },
        {
          "width": 495, "height": 187,
          "encoding": {
            "x": {"field": "t", "type": "quantitative", "scale": {"domain": [3, 8], "nice": false, "zero": false}, "axis": {"values": [3,4,5,6,7,8], "format": "d", "tickSize": 3, "labelExpr": "datum.value == 8 ? '8 min' : datum.label", "labelAlign": {"condition": {"test": "datum.value == 8", "value": "left"}, "value": "center"}}},
            "y": {"field": "v", "type": "quantitative", "scale": {"domain": [0, 68000], "nice": false}, "axis": {"values": [0,34000,68000], "format": "d", "offset": 4}}
          },
          "layer": [
            {"data": {"name": "trace"}, "transform": [{"filter": "datum.panel == 'EI_U'"}], "mark": {"type": "line", "color": "black", "strokeWidth": 1.8, "clip": true}},
            {"data": {"name": "divider"}, "transform": [{"filter": "datum.panel == 'EI_U'"}], "mark": {"type": "rule", "color": "black", "strokeWidth": 1.2, "strokeDash": [3, 2]}, "encoding": {"y2": {"field": "v2"}}},
            {"data": {"name": "arrow"}, "transform": [{"filter": "datum.panel == 'EI_U'"}], "mark": {"type": "rule", "color": "black", "strokeWidth": 1.5}, "encoding": {"x2": {"field": "t2"}}},
            {"data": {"name": "head"}, "transform": [{"filter": "datum.panel == 'EI_U'"}], "mark": {"type": "point", "filled": true, "color": "black", "opacity": 1, "size": 35}, "encoding": {"shape": {"field": "dir", "type": "nominal", "scale": {"domain": ["L", "R"], "range": ["triangle-left", "triangle-right"]}, "legend": null}}},
            {"data": {"name": "ann"}, "transform": [{"filter": "datum.panel == 'EI_U' && datum.kind == 'name'"}], "mark": {"type": "text", "align": "left", "baseline": "top", "font": "Liberation Serif", "fontSize": 19}, "encoding": {"text": {"field": "txt"}}},
            {"data": {"name": "ann"}, "transform": [{"filter": "datum.panel == 'EI_U' && datum.kind == 'note' && datum.al == 'l'"}], "mark": {"type": "text", "align": "left", "baseline": "middle", "font": "Liberation Serif", "fontWeight": "bold", "fontSize": 12.5}, "encoding": {"text": {"field": "txt"}}},
            {"data": {"name": "ann"}, "transform": [{"filter": "datum.panel == 'EI_U' && datum.kind == 'note' && datum.al == 'r'"}], "mark": {"type": "text", "align": "right", "baseline": "middle", "font": "Liberation Serif", "fontWeight": "bold", "fontSize": 12.5}, "encoding": {"text": {"field": "txt"}}},
            {"data": {"name": "ann"}, "transform": [{"filter": "datum.panel == 'EI_U' && datum.kind == 'note' && datum.al == 'c'"}], "mark": {"type": "text", "align": "center", "baseline": "middle", "font": "Liberation Serif", "fontWeight": "bold", "fontSize": 12}, "encoding": {"text": {"field": "txt"}}}
          ]
        }
      ]
    }
  ]
}
